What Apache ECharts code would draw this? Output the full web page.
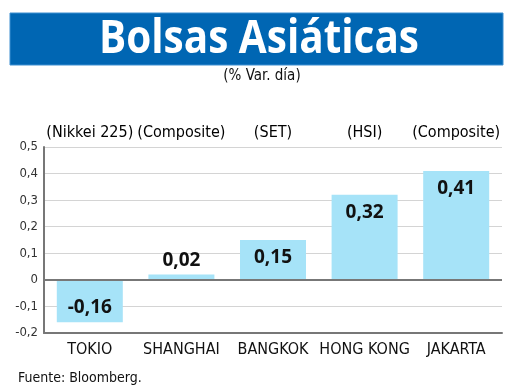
<!DOCTYPE html>
<html><head><meta charset="utf-8">
<script src="https://cdn.jsdelivr.net/npm/echarts@6/dist/echarts.min.js"></script>
<style>html,body{margin:0;padding:0;background:#fff}#c{width:520px;height:390px}</style>
</head><body><div id="c"></div>
<script>
const cities = ['TOKIO', 'SHANGHAI', 'BANGKOK', 'HONG KONG', 'JAKARTA'];
const indices = ['(Nikkei 225)', '(Composite)', '(SET)', '(HSI)', '(Composite)'];
const values = [-0.16, 0.02, 0.15, 0.32, 0.41];
const yTicks = [-0.2, -0.1, 0, 0.1, 0.2, 0.3, 0.4, 0.5];

const fmt = v => String(v).replace('.', ',');
const narrow = '"Liberation Sans Narrow", "DejaVu Sans Condensed", sans-serif';

const chart = echarts.init(document.getElementById('c'), null, {renderer: 'canvas'});
chart.setOption({
  animation: false,
  graphic: [
    {type: 'rect', shape: {x: 10, y: 13, width: 493, height: 52}, style: {fill: '#0066b3', stroke: '#3d8fd1', lineWidth: 1}},
    {type: 'text', x: 259, y: 40, scaleX: 0.88, style: {text: 'Bolsas Asiáticas', fill: '#fff', font: 'bold 46px "Open Sans", sans-serif', align: 'center', verticalAlign: 'middle'}},
    {type: 'text', x: 262, y: 76, style: {text: '(% Var. día)', fill: '#111', font: '15px ' + narrow, align: 'center', verticalAlign: 'middle'}},
    {type: 'text', x: 18, y: 378, style: {text: 'Fuente: Bloomberg.', fill: '#111', font: '14px ' + narrow, align: 'left', verticalAlign: 'middle'}}
  ],
  grid: {left: 44, right: 18, top: 147, bottom: 57},
  xAxis: [
    {type: 'category', data: cities, position: 'bottom',
     axisLine: {onZero: false, lineStyle: {color: '#777', width: 2}},
     axisTick: {show: false},
     axisLabel: {color: '#111', fontSize: 16, fontFamily: narrow, margin: 9, interval: 0}},
    {type: 'category', data: indices, position: 'top',
     axisLine: {show: false}, axisTick: {show: false},
     axisLabel: {color: '#000', fontSize: 16, fontFamily: narrow, margin: 6, interval: 0}}
  ],
  yAxis: {
    type: 'value', min: -0.2, max: 0.5, interval: 0.1,
    axisLine: {show: true, lineStyle: {color: '#777', width: 2}},
    axisTick: {show: false},
    splitLine: {lineStyle: {color: '#d4d4d4', width: 1}},
    axisLabel: {color: '#333', fontSize: 13, fontFamily: narrow, margin: 6,
      formatter: v => fmt(Math.round(v * 10) / 10)}
  },
  series: [{
    type: 'bar', xAxisIndex: 0, barWidth: 66,
    data: values.map((v, i) => ({
      value: v,
      label: {position: v < 0 ? 'insideBottom' : (v < 0.05 ? 'top' : 'insideTop'),
              distance: v < 0 ? 5 : (v < 0.05 ? 4 : 8)}
    })),
    itemStyle: {color: '#a6e3f8'},
    label: {show: true, color: '#111', fontSize: 19, fontWeight: 'bold', fontFamily: '"Open Sans", sans-serif',
      formatter: p => fmt(p.value)},
    markLine: {silent: true, symbol: 'none', label: {show: false},
      lineStyle: {color: '#777', width: 2, type: 'solid'},
      data: [{yAxis: 0}]}
  }]
});
</script></body></html>
